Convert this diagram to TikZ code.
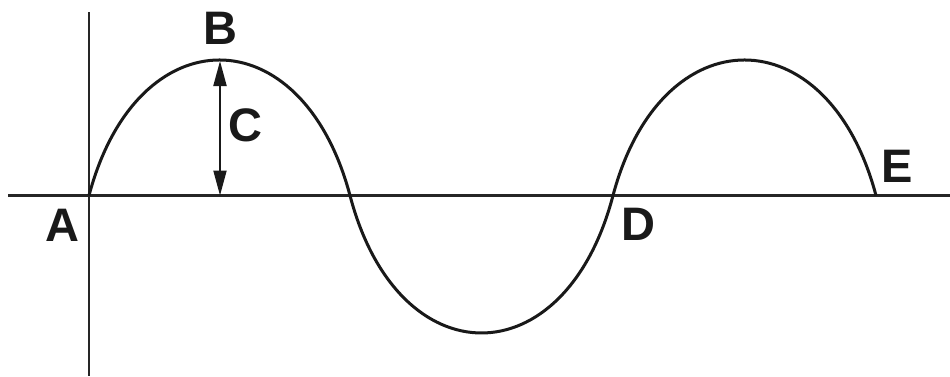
\documentclass[tikz,border=0pt]{standalone}
\usepackage{fontspec}
\setmainfont{Liberation Sans}
\usetikzlibrary{arrows.meta}
\begin{document}
\begin{tikzpicture}[x={(1pt,0)},y={(0,-1pt)},
  lbl/.style={font=\fontsize{47}{47}\selectfont\bfseries, inner sep=0pt, text=black!90},
  axisline/.style={line width=2.2pt, black!85},
  wave/.style={line width=3pt, black!90},
  dim/.style={line width=2pt, black!90, {Triangle[length=25pt,width=13pt]}-{Triangle[length=25pt,width=13pt]}}]
\useasboundingbox (0,0) rectangle (950,376);
\coordinate (hl) at (8,195.5);
\coordinate (hr) at (950,195.5);
\coordinate (vt) at (89,12);
\coordinate (vb) at (89,376);
\draw[axisline] (hl) -- (hr);
\draw[axisline] (vt) -- (vb);
\coordinate (Ap) at (89,195.5);
\coordinate (X1) at (350,195.5);
\coordinate (Dp) at (613,195.5);
\coordinate (Ep) at (876,195.5);
\coordinate (Bp) at (220,61);
\coordinate (Cb) at (220,195.5);
\draw[wave] (Ap) .. controls (137,14.8) and (302,14.8) .. (X1)
  .. controls (398,378.8) and (565,378.8) .. (Dp)
  .. controls (661,14.8) and (828,14.8) .. (Ep);
\draw[dim] (Bp) -- (Cb);
\node[lbl] (A) at (62,225) {A};
\node[lbl] (B) at (220,28) {B};
\node[lbl] (C) at (245.5,125.5) {C};
\node[lbl] (D) at (638.5,224.5) {D};
\node[lbl] (E) at (897.5,166) {E};
\end{tikzpicture}
\end{document}
